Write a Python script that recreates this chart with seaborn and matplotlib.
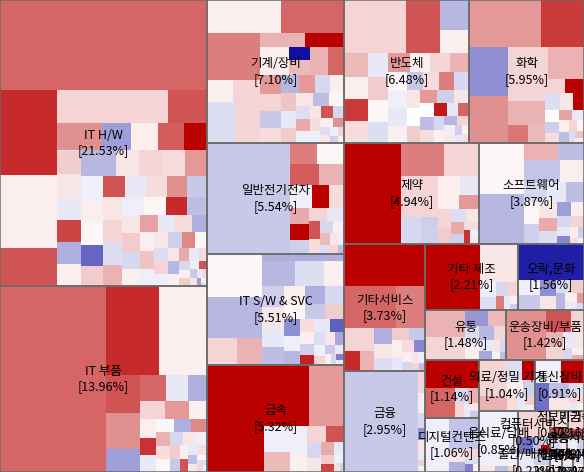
import numpy as np
import matplotlib
matplotlib.use("Agg")
import matplotlib.pyplot as plt
from matplotlib.colors import Normalize
import seaborn as sns

# sector names and share of total market cap (%)
sectors = ["IT H/W", "IT 부품", "기계/장비", "반도체", "화학", "일반전기전자", "IT S/W & SVC",
           "금속", "제약", "소프트웨어", "기타서비스", "금융", "기타 제조", "오락,문화", "유통",
           "운송장비/부품", "건설", "디지털컨텐츠", "의료/정밀 기기", "통신장비", "음식료/담배",
           "컴퓨터서비스", "출판/매체복제", "정보기기", "비금속", "운송", "방송서비스", "인터넷",
           "섬유/의류", "종이/목재"]
shares = [21.53, 13.96, 7.10, 6.48, 5.95, 5.54, 5.51, 5.32, 4.94, 3.87, 3.73, 2.95, 2.21, 1.56,
          1.48, 1.42, 1.14, 1.06, 1.04, 0.91, 0.85, 0.50, 0.22, 0.17, 0.16, 0.10, 0.10, 0.07,
          0.07, 0.07]

# stocks per sector, in listing order: (size, change %)
hw = [(18775, 1.8), (28, 0.2), (4890, 2.5), (4234, 0.2), (2200, 2.0), (3630, 0.5), (1290, 2.0),
      (34, -1.2), (1190, 1.3), (780, -1.2), (730, 0.2), (700, 1.9), (620, 3.0), (22, -0.4),
      (540, 0.6), (560, 0.3), (520, -0.3), (500, 2.2), (510, -1.0), (530, 0.2), (924, -0.9),
      (610, 0.3), (600, 0.5), (590, 0.4), (585, 1.2), (575, -0.2), (505, 0.2), (490, 0.1),
      (480, -1.9), (470, 0.6), (460, 2.0), (455, -0.3), (445, 0.4), (440, 1.3), (430, -0.7),
      (425, 0.3), (415, 0.5), (410, -0.4), (400, 0.9), (395, -0.2), (390, 0.1), (380, 2.5),
      (365, -0.8), (350, 0.3), (340, 0.6), (330, -0.5), (320, 0.2), (305, 1.1), (295, -0.3),
      (285, 0.4), (270, -1.0), (260, 0.2), (250, 0.7), (240, -0.2), (230, 0.3), (220, -0.6),
      (210, 1.4), (200, 0.1), (190, -0.4), (180, 0.5), (172, -0.2), (160, 0.3), (150, -0.9),
      (142, 0.2), (130, 1.0), (120, -0.3), (112, 0.4), (100, -0.5), (92, 0.2), (85, 0.6),
      (78, -0.2), (70, 2.0), (62, -0.7), (55, 0.3), (48, -0.3), (40, 0.5), (34, -1.2),
      (28, 0.2), (22, -0.4)]
itp = [(19550, 1.8), (4700, 2.5), (4260, 0.2), (1260, 2.0), (1220, 1.3), (780, -1.2), (675, 1.8),
       (550, -0.3), (500, -1.0), (440, 0.5), (410, 1.2), (320, 0.2), (300, 0.2), (280, 2.4),
       (260, -0.3), (240, -0.1), (225, -1.0), (210, 1.4), (200, 0.9), (190, 0.4), (180, 0.1),
       (170, -0.5), (160, 0.3), (150, -0.2), (140, 0.6), (130, -0.7), (120, 0.2), (110, 2.0),
       (100, -0.3), (90, 0.4), (80, -0.8), (70, 0.3), (60, 0.1), (50, -0.4), (40, 0.5),
       (30, -0.2)]
mach = [(2440, 0.2), (2080, 1.8), (2480, 1.5), (560, 0.2), (600, 0.5), (1130, -0.4), (1000, 0.5),
        (650, 0.9), (550, 3.0), (810, 0.2), (270, -3.0), (300, 0.8), (500, 0.9), (460, 1.8),
        (420, 1.2), (380, 0.5), (360, -0.7), (330, 0.4), (330, -0.9), (300, 1.2), (280, -0.5),
        (260, 0.2), (250, 0.7), (240, -0.3), (220, 0.6), (210, 0.3), (200, -0.8), (190, 0.1),
        (180, -0.4), (175, 1.0), (160, -0.2), (150, 0.3), (150, 2.0), (140, -0.5), (130, 0.4),
        (120, -0.2), (110, 0.2), (100, 1.3), (90, -0.4), (80, 0.3), (70, -0.2), (60, 0.5),
        (50, -0.6), (40, 0.2)]
semi = [(3400, 0.5), (1890, 2.0), (900, -0.9), (690, 0.2), (560, 0.8), (550, 0.2), (530, 2.3),
        (520, 0.4), (500, -0.3), (480, 0.6), (460, 0.1), (440, -0.4), (420, 1.2), (400, 0.2),
        (380, 0.5), (370, 0.9), (350, 0.1), (340, -0.2), (330, -0.3), (320, 0.2), (300, -0.7),
        (290, 0.4), (280, 1.5), (270, -0.5), (260, 0.3), (250, 0.0), (240, 0.6), (230, 1.2),
        (220, -0.6), (210, 0.3), (200, 0.0), (190, -0.8), (180, 0.4), (170, 2.7), (160, -0.3),
        (150, 1.8), (140, -0.5), (130, 0.2), (120, -0.9), (110, 0.5), (100, -0.2), (90, 0.3),
        (80, -0.6), (70, 0.2), (60, -0.3), (50, 0.4)]
chem = [(3380, 1.2), (2020, 2.3), (1910, -1.4), (1830, 1.3), (1280, 0.5), (1150, 0.9), (800, 0.5),
        (460, 0.9), (400, 0.9), (370, 1.6), (300, 0.8), (290, 0.5), (270, 3.0), (250, -0.4),
        (220, 0.3), (190, 3.0), (180, 0.0), (160, -0.6), (150, 0.4), (130, 1.1), (120, -0.3),
        (110, 0.2), (100, -0.8), (90, 0.5), (80, 0.1), (70, -0.4), (60, 0.7), (50, -0.2)]
elec = [(9430, -0.7), (600, 1.5), (600, 0.1), (620, 1.9), (540, 0.9), (520, -0.2), (380, 3.0),
        (360, 0.4), (320, 1.0), (300, 3.0), (280, -0.6), (250, 0.5), (230, -0.3), (200, 2.0),
        (180, 0.4), (160, -0.5), (140, 0.2), (120, 0.8), (100, -0.4), (90, 0.3), (80, -0.2),
        (70, 0.5), (60, -0.8)]
itsw = [(2300, 0.1), (2250, -0.9), (800, 0.5), (650, 0.9), (570, -1.0), (830, -0.9), (740, -0.4),
        (500, 0.2), (460, -0.6), (440, 0.3), (420, -0.3), (400, -0.8), (380, 0.2), (360, -1.0),
        (340, -0.5), (320, 0.1), (300, -0.7), (280, 0.6), (260, -1.4), (240, -0.2), (220, -0.9),
        (200, 0.4), (190, -0.3), (180, -2.0), (170, 0.2), (160, -0.6), (150, 2.6), (140, -0.4),
        (130, 0.3), (120, -1.1), (110, -0.2), (100, 0.5), (90, -0.7), (80, -0.3), (70, 0.2),
        (60, -0.5), (50, -1.6), (40, 0.3)]
metal = [(6200, 3.0), (2730, 3.0), (2170, 1.2), (1130, -0.2), (510, 0.8), (340, 0.2), (320, 0.5),
         (300, 2.0), (240, -0.5), (200, 0.3), (170, 1.0), (140, -0.3), (120, 0.6), (100, 2.2),
         (80, -0.2), (60, 0.4), (40, -0.6)]
pharm = [(5760, 3.0), (1460, 1.5), (1190, 0.5), (1540, 0.5), (555, -0.5), (470, -0.6), (420, 0.2),
         (360, -0.3), (300, 0.2), (280, 1.2), (250, 0.5), (220, 0.6), (190, -0.4), (170, 0.3),
         (150, 1.0), (130, -0.6), (110, 0.4), (90, 2.4), (70, -0.2), (50, 0.3)]
soft = [(2330, 0.1), (2320, -0.9), (600, 0.9), (470, -0.8), (780, -0.75), (520, 0.2), (480, -0.5),
        (400, -0.3), (370, -0.8), (340, 0.1), (310, -0.6), (280, 0.3), (250, 1.0), (230, -0.4),
        (200, -1.2), (180, 0.2), (160, -0.5), (140, 0.5), (120, -0.3), (100, -1.5), (85, 0.2),
        (70, -0.6), (55, 0.4), (40, -0.2)]
svc = [(3320, 3.0), (2130, 1.8), (1190, 1.5), (675, 0.5), (300, 2.5), (280, 0.9), (270, -1.0),
       (250, 0.3), (230, -0.4), (210, 0.6), (190, -0.7), (170, 0.2), (150, -0.3), (140, 0.4),
       (120, -1.5), (100, 0.2), (90, -0.5), (80, 0.3), (70, -0.2), (60, 0.5), (50, -0.8)]
fin = [(7400, -0.7), (160, 0.5), (140, 0.2), (110, -0.5), (90, -1.4), (80, 0.3), (60, -0.3),
       (50, 0.6), (40, -0.2)]
etcm = [(3630, 3.0), (1480, 0.3), (240, -0.2), (200, -0.4), (160, -0.5), (140, 0.5), (110, 1.5),
        (90, -0.3), (70, 0.2), (50, -0.6)]
ent = [(2340, -2.8), (330, -0.2), (300, -0.7), (260, -1.4), (230, 0.3), (200, -0.4), (170, 0.6),
       (140, -0.9), (110, 0.2), (90, -0.3), (70, 1.2), (50, -0.5)]
dist = [(1080, 0.9), (920, 0.5), (380, -1.3), (300, 0.8), (260, -0.4), (220, 0.2), (200, -0.9),
        (170, 0.5), (140, -0.3), (120, -1.1), (100, 0.3), (80, -0.5), (60, 0.2), (50, -0.8)]
auto = [(2000, 1.3), (550, 2.0), (300, 0.5), (260, 0.9), (220, 0.5), (180, -0.3), (140, 0.3),
        (110, -0.5), (80, 0.2), (60, 1.0)]
cons = [(1510, 3.0), (900, 1.8), (200, -0.5), (160, 0.9), (130, 0.5), (100, -0.3), (80, 0.3),
        (60, -0.7)]
digi = [(1300, -0.2), (920, -0.75), (200, 0.3), (160, -1.0), (120, 0.5), (100, -0.4), (70, -1.6),
        (50, 0.2)]
med = [(1000, 0.5), (420, 0.9), (300, -0.4), (260, 3.0), (250, 0.2), (200, -0.6), (160, 0.4),
       (120, -0.3), (90, 0.6), (60, -0.2)]
tel = [(600, -0.2), (530, 3.0), (400, -1.8), (300, -0.8), (250, 0.3), (180, -0.4), (130, 0.5),
       (70, -0.3), (50, 0.2)]
food = [(2100, -0.2), (100, 0.3), (80, -0.8), (60, 0.5)]
comp = [(900, 0.5), (280, -1.8), (150, -0.8), (90, -0.5), (80, 3.0)]
pub = [(300, -0.3), (200, -0.6), (110, 0.2)]
info = [(280, 0.4), (200, 2.0)]
nonm = [(290, 0.5), (160, 2.0)]
trans = [(180, -0.5), (100, 0.3)]
broad = [(170, -0.2), (110, -0.6)]
net = [(120, -0.3), (70, 0.4)]
textile = [(110, 0.3), (80, -0.4)]
paper = [(100, -0.4), (90, 0.2)]

stocks = [hw, itp, mach, semi, chem, elec, itsw, metal, pharm, soft, svc, fin, etcm, ent, dist,
          auto, cons, digi, med, tel, food, comp, pub, info, nonm, trans, broad, net, textile, paper]

W, H = 584, 472
K_MAX = 12


def aspect(w, h):
    if w <= 1e-9 or h <= 1e-9:
        return np.inf
    return max(w / h, h / w)


def layout(vals, x, y, w, h):
    # ordered treemap, pivot by size
    n = len(vals)
    if n == 0:
        return []
    if n == 1:
        return [(x, y, w, h)]
    total = float(sum(vals))
    p = int(np.argmax(vals))
    rects = []
    if p > 0:
        f1 = sum(vals[:p]) / total
        if w >= h:
            rects += layout(vals[:p], x, y, w * f1, h)
            x, w = x + w * f1, w * (1 - f1)
        else:
            rects += layout(vals[:p], x, y, w, h * f1)
            y, h = y + h * f1, h * (1 - f1)
    pv = vals[p]
    rest = vals[p + 1:]
    sub_total = pv + sum(rest)
    best = None
    prev_pa = np.inf
    for k in range(min(len(rest), K_MAX) + 1):
        grp = pv + sum(rest[:k])
        f = grp / sub_total
        if w >= h:
            cw = w * f
            ph = h * pv / grp
            rp = (x, y, cw, ph)
            r2 = (x, y + ph, cw, h - ph)
            r3 = (x + cw, y, w - cw, h)
        else:
            rh = h * f
            pw = w * pv / grp
            rp = (x, y, pw, rh)
            r2 = (x + pw, y, w - pw, rh)
            r3 = (x, y + rh, w, h - rh)
        pa = aspect(rp[2], rp[3])
        if best is not None and pa > best[0] and pa > prev_pa:
            break
        prev_pa = pa
        sub2 = layout(rest[:k], *r2)
        worst = [pa] + [aspect(r[2], r[3]) for r in sub2]
        if k < len(rest):
            worst.append(aspect(r3[2], r3[3]))
        score = max(worst)
        if best is None or score < best[0]:
            best = (score, k, rp, sub2, r3)
    score, k, rp, sub2, r3 = best
    rects += [rp] + sub2 + layout(rest[k:], *r3)
    return rects


sns.set_theme(style="white")
plt.rcParams["font.family"] = ["Noto Sans CJK KR", "DejaVu Sans"]

cmap = sns.blend_palette(["#1010a0", "#ffffff", "#bb0000"], as_cmap=True)
norm = Normalize(-3, 3)

fig = plt.figure(figsize=(5.84, 4.72), dpi=100)
ax = fig.add_axes([0, 0, 1, 1])

sec_rects = layout(shares, 0, 0, W, H)
for (sx, sy, sw, sh), items in zip(sec_rects, stocks):
    vals = [v for v, c in items]
    chg = [c for v, c in items]
    rs = layout(vals, sx, sy, sw, sh)
    xs, ys, ws, hs = zip(*rs)
    ax.bar(xs, hs, width=ws, bottom=ys, align="edge", color=cmap(norm(chg)),
           linewidth=0, antialiased=False)

sx, sy, sw, sh = zip(*sec_rects)
borders = ax.bar(sx, sh, width=sw, bottom=sy, align="edge", fill=False,
                 edgecolor="#6b6b6b", linewidth=1.1)

for patch, (x0, y0, w0, h0), name, share in zip(borders.patches, sec_rects, sectors, shares):
    t = ax.text(x0 + w0 / 2, y0 + h0 / 2, f"{name}\n[{share:.2f}%]", ha="center", va="center",
                fontsize=9, color="black", linespacing=1.25)
    t.set_clip_path(patch)

ax.set_xlim(0, W)
ax.set_ylim(H, 0)
ax.axis("off")
fig.savefig("out.png", dpi=100)
